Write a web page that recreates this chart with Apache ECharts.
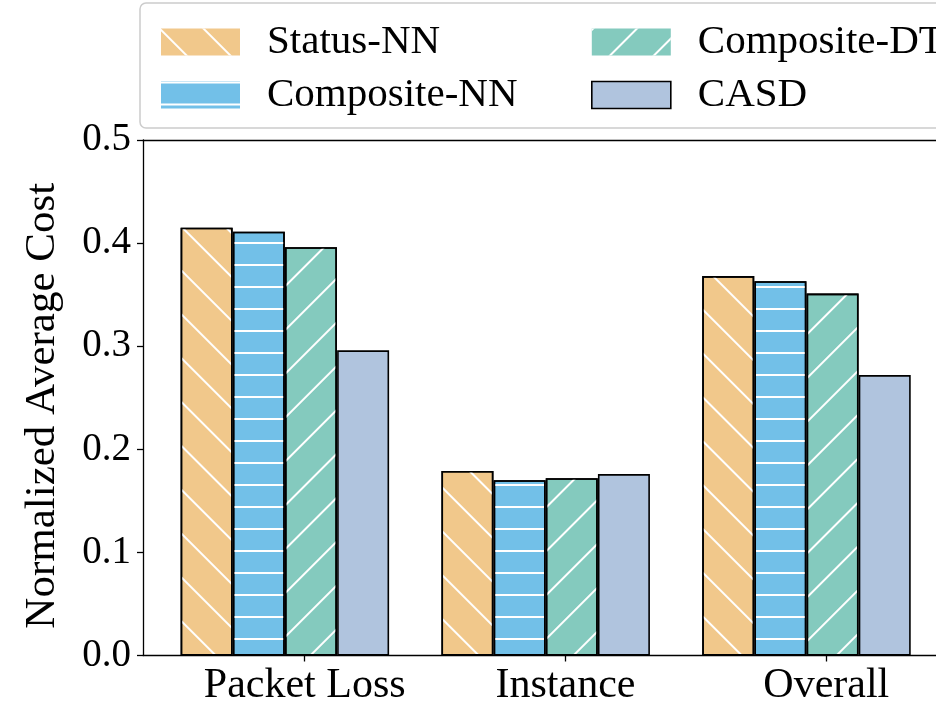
<!DOCTYPE html>
<html>
<head>
<meta charset="utf-8">
<script src="https://cdn.jsdelivr.net/npm/echarts@6/dist/echarts.min.js"></script>
<style>
html,body{margin:0;padding:0;background:#fff;}
#chart{width:936px;height:703px;}
</style>
</head>
<body>
<div id="chart"></div>
<script>
// ---- data ----
const categories = ['Packet Loss', 'Instance', 'Overall'];
const seriesNames = ['Status-NN', 'Composite-NN', 'Composite-DT', 'CASD'];
const statusNN    = [0.415, 0.179, 0.368];
const compositeNN = [0.411, 0.170, 0.363];
const compositeDT = [0.396, 0.172, 0.351];
const casd        = [0.296, 0.176, 0.272];
const yTicks = [0.0, 0.1, 0.2, 0.3, 0.4, 0.5];

// ---- layout / style ----
const values = [statusNN, compositeNN, compositeDT, casd];
const offsets = [-0.376, -0.176, 0.024, 0.224];
const colors = ['#F1C88B', '#72C0E8', '#84CABE', '#B0C4DE'];
const FONT = '"Liberation Serif", "Times New Roman", serif';
const FS_NUM = 39;
const FS_TXT = 42;
const X_MIN = -0.62, X_MAX = 2.4206;

function hatch(rot, gap) {
  return {
    symbol: 'rect', symbolSize: 1,
    dashArrayX: [1, 0], dashArrayY: [2, gap],
    rotation: rot, color: '#ffffff'
  };
}
const decals = [
  hatch(Math.PI / 4, 28.5),
  hatch(0, 19.7),
  hatch(-Math.PI / 4, 28.5),
  null
];

const series = seriesNames.map((name, k) => {
  const itemStyle = { color: colors[k], borderColor: '#000', borderWidth: 1.6 };
  if (decals[k]) itemStyle.decal = decals[k];
  return {
    name: name,
    type: 'bar',
    barWidth: 52,
    barGap: '-100%',
    itemStyle: itemStyle,
    emphasis: { disabled: true },
    data: categories.map((c, i) => [i + offsets[k], values[k][i]])
  };
});

function legendEntry(name, k) {
  return { name: name, icon: 'rect', itemStyle: { borderWidth: k === 3 ? 1.6 : 0, borderColor: '#000' } };
}
const legendText = { fontFamily: FONT, fontSize: 41, color: '#000', lineHeight: 40, padding: [0, 0, 0, 22] };

const chart = echarts.init(document.getElementById('chart'), null, { renderer: 'canvas' });
chart.setOption({
  backgroundColor: '#fff',
  animation: false,
  graphic: [{
    type: 'rect', z: 0,
    shape: { x: 140, y: 3, width: 840, height: 125, r: 6 },
    style: { fill: 'rgba(255,255,255,0.8)', stroke: '#cccccc', lineWidth: 1.5 }
  }],
  legend: [
    {
      orient: 'vertical', left: 156, top: 16.5, itemWidth: 79, itemHeight: 27, itemGap: 12,
      selectedMode: false, textStyle: legendText,
      data: [legendEntry(seriesNames[0], 0), legendEntry(seriesNames[1], 1)]
    },
    {
      orient: 'vertical', left: 586, top: 16.5, itemWidth: 79, itemHeight: 27, itemGap: 12,
      selectedMode: false, textStyle: legendText,
      data: [legendEntry(seriesNames[2], 2), legendEntry(seriesNames[3], 3)]
    }
  ],
  grid: {
    left: 143, top: 140, right: 0, bottom: 47.5,
    show: false, containLabel: false, outerBoundsMode: 'none'
  },
  xAxis: [
    {
      type: 'value', min: X_MIN, max: X_MAX,
      splitLine: { show: false },
      axisLine: { show: true, onZero: false, lineStyle: { color: '#000', width: 1.3 } },
      axisTick: { show: true, customValues: [0, 1, 2], length: 6, lineStyle: { color: '#000', width: 1.3 } },
      axisLabel: {
        customValues: [0, 1, 2],
        formatter: v => categories[Math.round(v)],
        fontFamily: FONT, fontSize: FS_TXT, color: '#000', margin: 9
      }
    },
    {
      type: 'value', position: 'top', min: X_MIN, max: X_MAX,
      splitLine: { show: false },
      axisLine: { show: true, onZero: false, lineStyle: { color: '#000', width: 1.3 } },
      axisTick: { show: false },
      axisLabel: { show: false }
    }
  ],
  yAxis: {
    type: 'value', min: 0, max: 0.5, interval: 0.1,
    name: 'Normalized Average Cost', nameLocation: 'middle', nameGap: 79,
    nameTextStyle: { fontFamily: FONT, fontSize: 43, color: '#000', padding: [0, 16, 0, 0] },
    splitLine: { show: false },
    axisLine: { show: true, onZero: false, lineStyle: { color: '#000', width: 1.3 } },
    axisTick: { show: true, length: 6, lineStyle: { color: '#000', width: 1.3 } },
    axisLabel: {
      formatter: v => yTicks.reduce((a, t) => Math.abs(t - v) < 1e-9 ? t.toFixed(1) : a, v.toFixed(1)),
      fontFamily: FONT, fontSize: FS_NUM, color: '#000', margin: 12
    }
  },
  series: series
});
</script>
</body>
</html>
